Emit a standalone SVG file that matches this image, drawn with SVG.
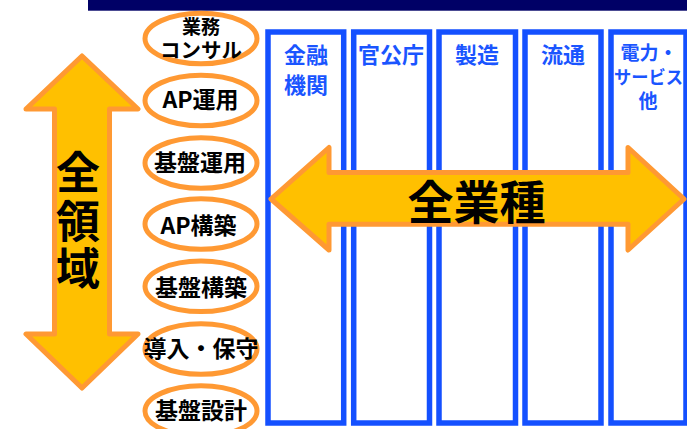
<svg xmlns="http://www.w3.org/2000/svg" width="687" height="429" viewBox="0 0 687 429">
<style>
.col{fill:#fff;stroke:#1450ff;stroke-width:5.5}
.ctext{font-family:"Noto Sans CJK JP","Noto Sans CJK SC",sans-serif;font-weight:bold;fill:#1a55ff;text-anchor:middle;dominant-baseline:central}
.ell{fill:#fff;stroke:#ff9933;stroke-width:5}
.etext{font-family:"Noto Sans CJK JP","Noto Sans CJK SC",sans-serif;font-weight:bold;fill:#000;text-anchor:middle;dominant-baseline:central;font-size:23px}
.arrow{fill:#ffc000;stroke:#ff9933;stroke-width:5;stroke-linejoin:round}
.big{font-family:"Noto Sans CJK JP","Noto Sans CJK SC",sans-serif;font-weight:bold;fill:#000;text-anchor:middle;dominant-baseline:central;font-size:46px}
</style>
<rect x="0" y="0" width="687" height="429" fill="#fff"/>
<rect x="88" y="0" width="599" height="10.7" fill="#000066"/>

<g id="col-kinyu">
<rect class="col" x="268" y="32" width="75.7" height="391"/>
<text class="ctext" x="306" y="52.5" font-size="22">金融<tspan x="306" dy="30">機関</tspan></text>
</g>
<g id="col-kankocho">
<rect class="col" x="353.7" y="32" width="75.8" height="391"/>
<text class="ctext" x="391" y="52.5" font-size="22">官公庁</text>
</g>
<g id="col-seizo">
<rect class="col" x="439" y="32" width="76.5" height="391"/>
<text class="ctext" x="477" y="52.5" font-size="22">製造</text>
</g>
<g id="col-ryutsu">
<rect class="col" x="525" y="32" width="76" height="391"/>
<text class="ctext" x="563" y="52.5" font-size="22">流通</text>
</g>
<g id="col-denryoku">
<rect class="col" x="611" y="32" width="75" height="391"/>
<text class="ctext" x="649" y="51" font-size="19">電力・<tspan x="648.5" dy="24.5" font-size="18" textLength="69" lengthAdjust="spacingAndGlyphs">サービス</tspan><tspan x="648" dy="23">他</tspan></text>
</g>

<g id="ell-consul">
<ellipse class="ell" cx="201" cy="38.5" rx="56" ry="25.3"/>
<text class="etext" x="201" y="25" style="font-size:19px">業務<tspan x="201" dy="24" style="font-size:20.5px">コンサル</tspan></text>
</g>
<g id="ell-ap-unyo">
<ellipse class="ell" cx="201" cy="100.5" rx="56" ry="25.3"/>
<text class="etext" x="200.5" y="98">AP運用</text>
</g>
<g id="ell-kiban-unyo">
<ellipse class="ell" cx="201" cy="163" rx="56" ry="25.3"/>
<text class="etext" x="200" y="161">基盤運用</text>
</g>
<g id="ell-ap-kochiku">
<ellipse class="ell" cx="201" cy="224" rx="56" ry="25.3"/>
<text class="etext" x="198.5" y="223.5">AP構築</text>
</g>
<g id="ell-kiban-kochiku">
<ellipse class="ell" cx="201" cy="286.3" rx="56" ry="25.3"/>
<text class="etext" x="201" y="285.5">基盤構築</text>
</g>
<g id="ell-donyu">
<ellipse class="ell" cx="201" cy="349" rx="56" ry="25.3"/>
<text class="etext" x="201" y="347">導入・保守</text>
</g>
<g id="ell-kiban-sekkei">
<ellipse class="ell" cx="201" cy="411" rx="56" ry="25.3"/>
<text class="etext" x="201" y="409">基盤設計</text>
</g>

<g id="connectors">
<g id="arrow-vertical">
<polygon class="arrow" points="82,56 138,109 109.5,109 109.5,334 138,334 82,388 26,334 54.5,334 54.5,109 26,109"/>
<text class="big" x="78" y="170" style="font-size:44px">全<tspan x="78" dy="48.5">領</tspan><tspan x="78" dy="47.5">域</tspan></text>
</g>
<g id="arrow-horizontal">
<polygon class="arrow" points="271,199 329,147.5 329,172.5 628,172.5 628,147.5 684,199 628,250 628,224.2 329,224.2 329,250"/>
<text class="big" x="476.5" y="199">全業種</text>
</g>
</g>
</svg>
